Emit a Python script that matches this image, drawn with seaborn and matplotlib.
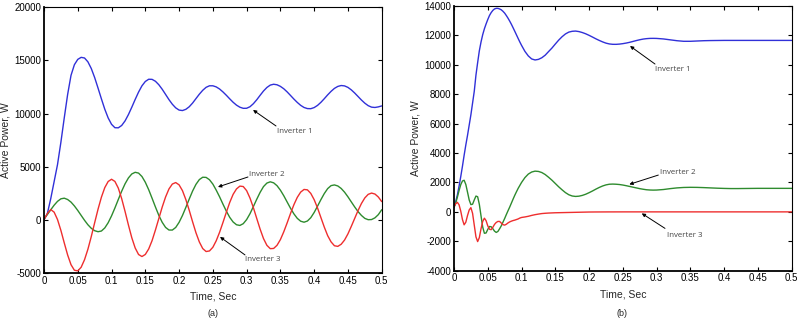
import numpy as np
import pandas as pd
import matplotlib
matplotlib.use("Agg")
import matplotlib.pyplot as plt
import seaborn as sns

# ---------------- data ----------------
# panel (a): sample times every 0.005 s
time_a = np.round(np.arange(0, 0.5001, 0.005), 4)
inv1_a = [0, 600, 2000, 3600, 5200, 7300, 9600, 11800, 13600, 14600,
          15100, 15290, 15230, 14870, 14240, 13390, 12400, 11385, 10410, 9590,
          8990, 8670, 8660, 8880, 9310, 9905, 10600, 11330, 12020, 12610,
          13020, 13230, 13220, 13040, 12715, 12290, 11805, 11315, 10880, 10540,
          10330, 10285, 10400, 10640, 10990, 11410, 11825, 12190, 12470, 12615,
          12615, 12510, 12310, 12035, 11720, 11385, 11065, 10795, 10600, 10495,
          10500, 10645, 10930, 11300, 11720, 12125, 12455, 12680, 12760, 12710,
          12560, 12335, 12040, 11705, 11365, 11050, 10775, 10575, 10470, 10460,
          10565, 10770, 11060, 11400, 11760, 12090, 12370, 12555, 12640, 12605,
          12465, 12230, 11935, 11605, 11275, 10980, 10745, 10605, 10575, 10630,
          10720]
inv2_a = [100, 500, 950, 1380, 1740, 1980, 2040, 1915, 1670, 1310,
          885, 420, -40, -460, -795, -1020, -1115, -1050, -760, -270,
          375, 1120, 1915, 2695, 3390, 3945, 4320, 4475, 4400, 4080,
          3540, 2840, 2035, 1210, 425, -230, -710, -955, -960, -715,
          -235, 410, 1170, 1955, 2710, 3340, 3790, 4010, 3995, 3775,
          3365, 2795, 2165, 1475, 815, 235, -200, -460, -525, -360,
          25, 580, 1250, 1940, 2590, 3130, 3460, 3580, 3485, 3215,
          2795, 2270, 1680, 1090, 565, 143, -127, -220, -110, 205,
          695, 1290, 1905, 2475, 2940, 3220, 3287, 3190, 2955, 2605,
          2170, 1690, 1215, 775, 415, 140, 15, 30, 190, 490,
          950]
inv3_a = [0, 600, 970, 725, 30, -990, -2170, -3305, -4220, -4740,
          -4800, -4460, -3750, -2765, -1570, -270, 1000, 2135, 3035, 3610,
          3820, 3615, 2990, 2000, 795, -485, -1685, -2645, -3260, -3450,
          -3255, -2740, -1955, -950, 125, 1200, 2150, 2905, 3370, 3510,
          3295, 2750, 1910, 905, -180, -1215, -2080, -2700, -2980, -2925,
          -2580, -1965, -1165, -240, 720, 1640, 2400, 2910, 3175, 3135,
          2750, 2050, 1150, 130, -875, -1760, -2395, -2710, -2690, -2395,
          -1860, -1125, -285, 600, 1425, 2115, 2610, 2860, 2825, 2490,
          1900, 1120, 215, -680, -1485, -2070, -2435, -2495, -2295, -1900,
          -1320, -610, 135, 880, 1540, 2065, 2400, 2520, 2430, 2150,
          1720]

# panel (b): denser sampling early on
time_b = np.round(np.concatenate([np.arange(0, 0.10001, 0.0025),
                                  np.arange(0.105, 0.30001, 0.005),
                                  np.arange(0.31, 0.50001, 0.01)]), 4)
inv1_b = [300, 700, 1150, 1750, 2400, 3100, 3850, 4550, 5200, 5900,
          6600, 7400, 8200, 9300, 10150, 10950, 11550, 12050, 12450, 12780,
          13080, 13350, 13550, 13700, 13800, 13840, 13840, 13800, 13740, 13640,
          13515, 13350, 13170, 12970, 12755, 12520, 12280, 12035, 11790, 11550,
          11325,
          10915, 10605, 10400, 10330, 10370, 10480, 10655, 10900, 11140, 11415,
          11680, 11910, 12100, 12225, 12280, 12295, 12260, 12195, 12110, 12005,
          11890, 11770, 11660, 11560, 11475, 11420, 11395, 11393, 11410, 11440,
          11480, 11530, 11590, 11650, 11705, 11750, 11780, 11797, 11800, 11795,
          11760, 11700, 11640, 11600, 11600, 11620, 11640, 11650, 11655, 11660,
          11660, 11660, 11660, 11660, 11660, 11660, 11660, 11660, 11660, 11660]
inv2_b = [300, 600, 1000, 1450, 1850, 2100, 2150, 1865, 1345, 810,
          495, 520, 810, 1075, 1030, 515, -270, -1030, -1455, -1435,
          -1190, -995, -1010, -1145, -1310, -1397, -1330, -1150, -950, -700,
          -450, -180, 80, 330, 600, 870, 1130, 1370, 1600, 1800,
          2000,
          2330, 2570, 2710, 2770, 2750, 2675, 2540, 2355, 2155, 1930,
          1705, 1500, 1310, 1165, 1080, 1050, 1068, 1120, 1200, 1305,
          1420, 1545, 1660, 1760, 1835, 1880, 1890, 1880, 1860, 1825,
          1780, 1730, 1680, 1630, 1580, 1540, 1505, 1487, 1480, 1485,
          1520, 1580, 1630, 1660, 1670, 1665, 1650, 1630, 1610, 1595,
          1585, 1585, 1590, 1595, 1600, 1600, 1600, 1600, 1600, 1600]
inv3_b = [350, 550, 650, 480, 50, -520, -880, -700, -250, 130,
          290, -100, -900, -1700, -2020, -1750, -1150, -650, -430, -600,
          -950, -1180, -1210, -1050, -850, -720, -650, -650, -760, -870,
          -900, -840, -750, -680, -630, -590, -560, -520, -480, -420,
          -380,
          -345, -300, -240, -190, -150, -115, -95, -80, -70, -60,
          -55, -50, -45, -40, -35, -30, -25, -20, -15, -10,
          -8, -6, -5, -4, -3, -2, -2, -1, -1, 0,
          0, 0, 0, 0, 0, 0, 0, 0, 0, 0,
          0, 0, 0, 0, 0, 0, 0, 0, 0, 0,
          0, 0, 0, 0, 0, 0, 0, 0, 0, 0]

series_names = ["Inverter 1", "Inverter 2", "Inverter 3"]
colors = {"Inverter 1": "#3030d8", "Inverter 2": "#2e8b2e", "Inverter 3": "#ee2e2e"}

xticks = [0, 0.05, 0.1, 0.15, 0.2, 0.25, 0.3, 0.35, 0.4, 0.45, 0.5]
xtick_labels = ["0", "0.05", "0.1", "0.15", "0.2", "0.25", "0.3", "0.35", "0.4", "0.45", "0.5"]
yticks_a = [-5000, 0, 5000, 10000, 15000, 20000]
yticks_b = [-4000, -2000, 0, 2000, 4000, 6000, 8000, 10000, 12000, 14000]

# annotation anchors: (text x, text y, arrow tail x, tail y, arrow head x, head y)
notes_a = {"Inverter 1": (0.345, 8270, 0.3435, 8835, 0.3095, 10340),
           "Inverter 2": (0.3035, 4225, 0.302, 4035, 0.2576, 3094),
           "Inverter 3": (0.2976, -3770, 0.2976, -3300, 0.2606, -1605)}
notes_b = {"Inverter 1": (0.2976, 9714, 0.2976, 10054, 0.2606, 11279),
           "Inverter 2": (0.305, 2660, 0.3025, 2503, 0.2596, 1871),
           "Inverter 3": (0.315, -1578, 0.3124, -1122, 0.278, -102)}

# ---------------- plotting ----------------
sns.set_theme(style="ticks")
plt.rcParams["font.family"] = ["Liberation Sans", "DejaVu Sans"]

fig = plt.figure(figsize=(8.01, 3.26), dpi=100)
ax_a = fig.add_axes([44 / 801, 1 - 273 / 326, 337.7 / 801, 265.7 / 326])
ax_b = fig.add_axes([454 / 801, 1 - 270.7 / 326, 337.7 / 801, 264.7 / 326])


def long_frame(t, vals):
    parts = []
    for name, v in zip(series_names, vals):
        parts.append(pd.DataFrame({"Time": t, "Power": v, "Series": name}))
    return pd.concat(parts, ignore_index=True)


def draw(ax, df, yticks, ylim, notes):
    sns.lineplot(data=df, x="Time", y="Power", hue="Series", palette=colors,
                 estimator=None, sort=False, legend=False, lw=1.0, ax=ax)
    ax.set_xlim(0, 0.5)
    ax.set_ylim(*ylim)
    ax.set_xticks(xticks)
    ax.set_xticklabels(xtick_labels)
    ax.set_yticks(yticks)
    ax.set_yticklabels([str(v) for v in yticks])
    ax.tick_params(direction="in", top=True, right=True, length=3, width=0.8,
                   labelsize=7, colors="black", pad=2)
    ax.set_xlabel("Time, Sec", fontsize=7.5, labelpad=4)
    ax.set_ylabel("Active Power, W", fontsize=7.5)
    ax.yaxis.set_label_coords(-0.100, 0.5)
    for side in ["left", "bottom"]:
        ax.spines[side].set_linewidth(1.3)
        ax.spines[side].set_color("black")
    for side in ["top", "right"]:
        ax.spines[side].set_linewidth(0.8)
        ax.spines[side].set_color("black")
    for name, (tx, ty, ax0, ay0, hx, hy) in notes.items():
        ax.annotate("", xy=(hx, hy), xytext=(ax0, ay0),
                    arrowprops=dict(arrowstyle="-|>", color="black", lw=0.7,
                                    mutation_scale=5, shrinkA=0, shrinkB=0))
        ax.text(tx, ty, name, fontsize=5.7, color="#444444", ha="left",
                va="center", family=["Open Sans", "DejaVu Sans"])


draw(ax_a, long_frame(time_a, [inv1_a, inv2_a, inv3_a]), yticks_a, (-5000, 20000), notes_a)
draw(ax_b, long_frame(time_b, [inv1_b, inv2_b, inv3_b]), yticks_b, (-4000, 14000), notes_b)

fig.text(213 / 801, 1 - 313 / 326, "(a)", fontsize=6.5, ha="center", va="center")
fig.text(622 / 801, 1 - 313 / 326, "(b)", fontsize=6.5, ha="center", va="center")

fig.savefig("out.png", dpi=100)
